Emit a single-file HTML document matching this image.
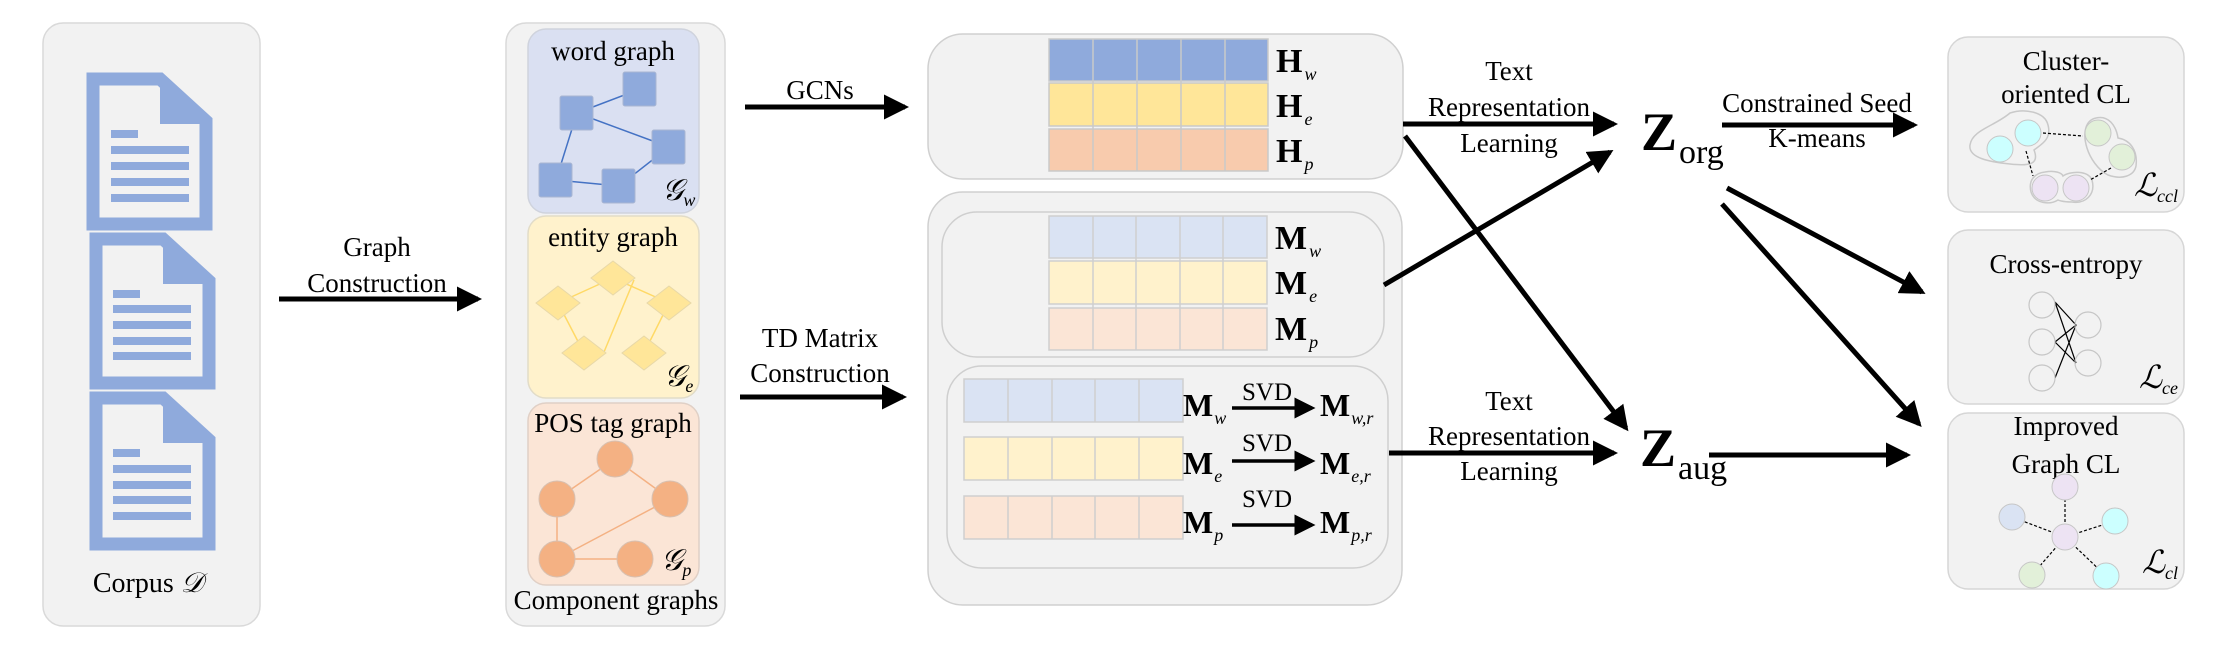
<!DOCTYPE html>
<html><head><meta charset="utf-8"><style>
html,body{margin:0;padding:0;background:#fff;}
svg{display:block;font-family:"Liberation Serif","Times New Roman","DejaVu Serif",serif;}
svg text{font-family:"Liberation Serif","Times New Roman","DejaVu Serif",serif;fill:#000;}
</style></head><body>
<svg width="2234" height="658" viewBox="0 0 2234 658" xmlns="http://www.w3.org/2000/svg" font-family="Liberation Serif, Times New Roman, DejaVu Serif, serif">
<defs>
<marker id="ah" markerWidth="5" markerHeight="5" refX="4.2" refY="2.5" orient="auto" markerUnits="strokeWidth">
<path d="M0,0 L5,2.5 L0,5 Z" fill="#000"/>
</marker>
<marker id="ahs" markerWidth="6" markerHeight="6" refX="5" refY="3" orient="auto" markerUnits="strokeWidth">
<path d="M0,0 L6,3 L0,6 Z" fill="#000"/>
</marker>
</defs>

<!-- Corpus -->
<rect x="43" y="23" width="217" height="603" rx="20" fill="#f2f2f2" stroke="#d9d9d9" stroke-width="1.5"/>
<g fill="none" stroke="#8faadc" stroke-width="13">
<path d="M93,79 H160 L206,121 V224 H93 Z"/>
<path d="M96,239 H163 L209,281 V383 H96 Z"/>
<path d="M96,398 H163 L209,440 V544 H96 Z"/>
</g>
<g fill="#8faadc">
<path d="M160,79 V124 H206 Z"/><path d="M163,239 V284 H209 Z"/><path d="M163,398 V443 H209 Z"/>
<rect x="111" y="130" width="27" height="8"/><rect x="111" y="146" width="78" height="8"/><rect x="111" y="162" width="78" height="8"/><rect x="111" y="178" width="78" height="8"/><rect x="111" y="194" width="78" height="8"/>
<rect x="113" y="290" width="27" height="8"/><rect x="113" y="305" width="78" height="8"/><rect x="113" y="321" width="78" height="8"/><rect x="113" y="337" width="78" height="8"/><rect x="113" y="352" width="78" height="8"/>
<rect x="113" y="449" width="27" height="8"/><rect x="113" y="465" width="78" height="8"/><rect x="113" y="481" width="78" height="8"/><rect x="113" y="496" width="78" height="8"/><rect x="113" y="512" width="78" height="8"/>
</g>
<text x="148" y="592" font-size="28" text-anchor="middle">Corpus <tspan font-style="italic">𝒟</tspan></text>

<!-- Graph Construction -->
<text x="377" y="256" font-size="27" text-anchor="middle">Graph</text>
<text x="377" y="292" font-size="27" text-anchor="middle">Construction</text>
<line x1="279" y1="299" x2="478" y2="299" stroke="#000" stroke-width="5" marker-end="url(#ah)"/>

<!-- Component graphs -->
<rect x="506" y="23" width="219" height="603" rx="20" fill="#f2f2f2" stroke="#d9d9d9" stroke-width="1.5"/>
<rect x="528" y="29" width="171" height="184" rx="18" fill="#dae0f2" stroke="#cfd3dd" stroke-width="1.5"/>
<rect x="528" y="216" width="171" height="182" rx="18" fill="#fff2cc" stroke="#e2dcc8" stroke-width="1.5"/>
<rect x="528" y="403" width="171" height="182" rx="18" fill="#fbe5d6" stroke="#e0d0c6" stroke-width="1.5"/>
<text x="613" y="60" font-size="27" text-anchor="middle">word graph</text>
<text x="613" y="246" font-size="27" text-anchor="middle">entity graph</text>
<text x="613" y="432" font-size="27" text-anchor="middle">POS tag graph</text>
<text x="616" y="609" font-size="27" text-anchor="middle">Component graphs</text>
<g stroke="#4472c4" stroke-width="1.5"><line x1="577" y1="113" x2="640" y2="89"/><line x1="577" y1="113" x2="669" y2="147"/><line x1="577" y1="113" x2="556" y2="180"/><line x1="556" y1="180" x2="619" y2="186"/><line x1="619" y1="186" x2="669" y2="147"/></g>
<g fill="#8faadc" stroke="#a9b6d2" stroke-width="1"><rect x="623" y="72" width="33" height="34" rx="2"/><rect x="560" y="96" width="33" height="34" rx="2"/><rect x="652" y="130" width="33" height="34" rx="2"/><rect x="539" y="163" width="33" height="34" rx="2"/><rect x="602" y="169" width="33" height="34" rx="2"/></g>
<text x="662" y="200" font-size="30" font-style="italic">𝒢<tspan font-size="18" dy="6">w</tspan></text>
<g stroke="#ffd966" stroke-width="1.5"><line x1="558" y1="303" x2="613" y2="278"/><line x1="613" y1="278" x2="669" y2="303"/><line x1="558" y1="303" x2="584" y2="353"/><line x1="634" y1="280" x2="604" y2="352"/><line x1="669" y1="303" x2="644" y2="353"/></g>
<g fill="#ffe699" stroke="#e8d8a8" stroke-width="1"><path d="M613,261 L635,278 L613,295 L591,278 Z"/><path d="M558,286 L580,303 L558,320 L536,303 Z"/><path d="M669,286 L691,303 L669,320 L647,303 Z"/><path d="M584,336 L606,353 L584,370 L562,353 Z"/><path d="M644,336 L666,353 L644,370 L622,353 Z"/></g>
<text x="664" y="386" font-size="30" font-style="italic">𝒢<tspan font-size="18" dy="6">e</tspan></text>
<g stroke="#f4b183" stroke-width="1.5"><line x1="615" y1="459" x2="557" y2="499"/><line x1="615" y1="459" x2="670" y2="499"/><line x1="557" y1="499" x2="557" y2="559"/><line x1="557" y1="559" x2="670" y2="499"/><line x1="557" y1="559" x2="635" y2="559"/></g>
<g fill="#f4b183" stroke="#d8c0b0" stroke-width="1"><ellipse cx="615" cy="459" rx="18" ry="18"/><ellipse cx="557" cy="499" rx="18" ry="18"/><ellipse cx="670" cy="499" rx="18" ry="18"/><ellipse cx="557" cy="559" rx="18" ry="18"/><ellipse cx="635" cy="559" rx="18" ry="18"/></g>
<text x="661" y="570" font-size="30" font-style="italic">𝒢<tspan font-size="18" dy="6">p</tspan></text>

<!-- GCNs -->
<text x="820" y="99" font-size="27" text-anchor="middle">GCNs</text>
<line x1="745" y1="107" x2="905" y2="107" stroke="#000" stroke-width="5" marker-end="url(#ah)"/>
<!-- TD Matrix -->
<text x="820" y="347" font-size="27" text-anchor="middle">TD Matrix</text>
<text x="820" y="382" font-size="27" text-anchor="middle">Construction</text>
<line x1="740" y1="397" x2="903" y2="397" stroke="#000" stroke-width="5" marker-end="url(#ah)"/>

<!-- H box -->
<rect x="928" y="34" width="475" height="145" rx="35" fill="#f2f2f2" stroke="#d0d0d0" stroke-width="1.5"/>
<g stroke="#c9c9c9" stroke-width="1.5">
<rect x="1049" y="39" width="219" height="42" fill="#8faadc"/>
<rect x="1049" y="83" width="219" height="43" fill="#ffe699"/>
<rect x="1049" y="129" width="219" height="42" fill="#f8cbad"/>
<line x1="1093" y1="39" x2="1093" y2="171"/><line x1="1137" y1="39" x2="1137" y2="171"/><line x1="1181" y1="39" x2="1181" y2="171"/><line x1="1225" y1="39" x2="1225" y2="171"/>
</g>
<text x="1276" y="72" font-size="34" font-weight="bold">H<tspan font-size="18" font-weight="normal" font-style="italic" dy="8" dx="2">w</tspan></text>
<text x="1276" y="117" font-size="34" font-weight="bold">H<tspan font-size="18" font-weight="normal" font-style="italic" dy="8" dx="2">e</tspan></text>
<text x="1276" y="162" font-size="34" font-weight="bold">H<tspan font-size="18" font-weight="normal" font-style="italic" dy="8" dx="2">p</tspan></text>

<!-- M big box -->
<rect x="928" y="192" width="474" height="413" rx="35" fill="#f2f2f2" stroke="#d0d0d0" stroke-width="1.5"/>
<rect x="942" y="212" width="442" height="145" rx="35" fill="#f2f2f2" stroke="#cfcfcf" stroke-width="1.5"/>
<g stroke="#cfcfcf" stroke-width="1.5">
<rect x="1049" y="216" width="218" height="42" fill="#dae3f3"/>
<rect x="1049" y="261" width="218" height="43" fill="#fff2cc"/>
<rect x="1049" y="308" width="218" height="42" fill="#fbe5d6"/>
<line x1="1093" y1="216" x2="1093" y2="350"/><line x1="1136" y1="216" x2="1136" y2="350"/><line x1="1180" y1="216" x2="1180" y2="350"/><line x1="1223" y1="216" x2="1223" y2="350"/>
</g>
<text x="1275" y="249" font-size="34" font-weight="bold">M<tspan font-size="18" font-weight="normal" font-style="italic" dy="8" dx="2">w</tspan></text>
<text x="1275" y="294" font-size="34" font-weight="bold">M<tspan font-size="18" font-weight="normal" font-style="italic" dy="8" dx="2">e</tspan></text>
<text x="1275" y="340" font-size="34" font-weight="bold">M<tspan font-size="18" font-weight="normal" font-style="italic" dy="8" dx="2">p</tspan></text>

<rect x="947" y="366" width="441" height="202" rx="35" fill="#f2f2f2" stroke="#cfcfcf" stroke-width="1.5"/>
<g stroke="#cfcfcf" stroke-width="1.5">
<rect x="964" y="379" width="219" height="43" fill="#dae3f3"/>
<rect x="964" y="437" width="219" height="43" fill="#fff2cc"/>
<rect x="964" y="496" width="219" height="43" fill="#fbe5d6"/>
<line x1="1008" y1="379" x2="1008" y2="422"/><line x1="1052" y1="379" x2="1052" y2="422"/><line x1="1095" y1="379" x2="1095" y2="422"/><line x1="1139" y1="379" x2="1139" y2="422"/>
<line x1="1008" y1="437" x2="1008" y2="480"/><line x1="1052" y1="437" x2="1052" y2="480"/><line x1="1095" y1="437" x2="1095" y2="480"/><line x1="1139" y1="437" x2="1139" y2="480"/>
<line x1="1008" y1="496" x2="1008" y2="539"/><line x1="1052" y1="496" x2="1052" y2="539"/><line x1="1095" y1="496" x2="1095" y2="539"/><line x1="1139" y1="496" x2="1139" y2="539"/>
</g>
<g font-size="32" font-weight="bold">
<text x="1183" y="416">M<tspan font-size="18" font-weight="normal" font-style="italic" dy="8" dx="1">w</tspan></text>
<text x="1183" y="474">M<tspan font-size="18" font-weight="normal" font-style="italic" dy="8" dx="1">e</tspan></text>
<text x="1183" y="533">M<tspan font-size="18" font-weight="normal" font-style="italic" dy="8" dx="1">p</tspan></text>
<text x="1320" y="416">M<tspan font-size="18" font-weight="normal" font-style="italic" dy="8" dx="1">w,r</tspan></text>
<text x="1320" y="474">M<tspan font-size="18" font-weight="normal" font-style="italic" dy="8" dx="1">e,r</tspan></text>
<text x="1320" y="533">M<tspan font-size="18" font-weight="normal" font-style="italic" dy="8" dx="1">p,r</tspan></text>
</g>
<g font-size="25" text-anchor="middle"><text x="1267" y="400">SVD</text><text x="1267" y="451">SVD</text><text x="1267" y="507">SVD</text></g>
<g stroke="#000" stroke-width="3.5"><line x1="1232" y1="408" x2="1312" y2="408" marker-end="url(#ahs)"/><line x1="1232" y1="461" x2="1312" y2="461" marker-end="url(#ahs)"/><line x1="1232" y1="525" x2="1312" y2="525" marker-end="url(#ahs)"/></g>

<!-- connectors middle -->
<g stroke="#000" stroke-width="5" fill="none">
<line x1="1403" y1="124" x2="1614" y2="124" marker-end="url(#ah)"/>
<line x1="1384" y1="285" x2="1610" y2="152" marker-end="url(#ah)"/>
<line x1="1405" y1="136" x2="1626" y2="428" marker-end="url(#ah)"/>
<line x1="1389" y1="453" x2="1614" y2="453" marker-end="url(#ah)"/>
<line x1="1722" y1="125" x2="1914" y2="125" marker-end="url(#ah)"/>
<line x1="1727" y1="188" x2="1922" y2="292" marker-end="url(#ah)"/>
<line x1="1722" y1="204" x2="1919" y2="424" marker-end="url(#ah)"/>
<line x1="1709" y1="455" x2="1907" y2="455" marker-end="url(#ah)"/>
</g>
<g font-size="27" text-anchor="middle">
<text x="1509" y="80">Text</text><text x="1509" y="116">Representation</text><text x="1509" y="152">Learning</text>
<text x="1509" y="410">Text</text><text x="1509" y="445">Representation</text><text x="1509" y="480">Learning</text>
<text x="1817" y="112">Constrained Seed</text><text x="1817" y="147">K-means</text>
</g>
<text x="1641" y="150" font-size="54" font-weight="bold">Z<tspan font-size="34" font-weight="normal" dy="13" dx="2">org</tspan></text>
<text x="1640" y="466" font-size="54" font-weight="bold">Z<tspan font-size="34" font-weight="normal" dy="13" dx="2">aug</tspan></text>

<!-- right boxes -->
<rect x="1948" y="37" width="236" height="175" rx="20" fill="#f2f2f2" stroke="#d6d6d6" stroke-width="1.5"/>
<rect x="1948" y="230" width="236" height="174" rx="20" fill="#f2f2f2" stroke="#d6d6d6" stroke-width="1.5"/>
<rect x="1948" y="413" width="236" height="176" rx="20" fill="#f2f2f2" stroke="#d6d6d6" stroke-width="1.5"/>
<g font-size="27" text-anchor="middle">
<text x="2066" y="70">Cluster-</text><text x="2066" y="103">oriented CL</text>
<text x="2066" y="273">Cross-entropy</text>
<text x="2066" y="435">Improved</text><text x="2066" y="473">Graph CL</text>
</g>
<!-- cluster CL -->
<g fill="none" stroke="#c9c9c9" stroke-width="1.5">
<path d="M2010,113 C2025,108 2045,112 2048,125 C2052,140 2040,145 2034,150 C2040,165 2028,166 2010,164 C1990,162 1968,158 1970,145 C1972,130 1995,126 2010,113 Z"/>
<path d="M2096,118 C2108,115 2116,125 2118,138 C2130,140 2138,150 2136,166 C2134,176 2122,180 2108,175 C2098,170 2090,158 2087,148 C2082,132 2086,120 2096,118 Z"/>
<path d="M2045,172 C2055,170 2062,173 2063,176 C2070,171 2088,170 2092,180 C2096,195 2085,204 2072,202 C2062,202 2058,200 2058,200 C2050,205 2035,204 2031,192 C2028,180 2035,173 2045,172 Z"/>
</g>
<g stroke="#000" stroke-width="1.2" stroke-dasharray="3,2"><line x1="2043" y1="133" x2="2083" y2="136"/><line x1="2026" y1="151" x2="2033" y2="176"/><line x1="2111" y1="168" x2="2090" y2="180"/></g>
<g stroke="#c6c6c6" stroke-width="1">
<circle cx="2000" cy="149" r="13" fill="#ccffff"/><circle cx="2028" cy="133" r="13" fill="#ccffff"/>
<circle cx="2098" cy="133" r="13" fill="#e2f0d9"/><circle cx="2122" cy="157" r="13" fill="#e2f0d9"/>
<circle cx="2045" cy="188" r="13" fill="#ede3f3"/><circle cx="2076" cy="188" r="13" fill="#ede3f3"/>
</g>
<text x="2134" y="196" font-size="32" font-style="italic">ℒ<tspan font-size="18" dy="6">ccl</tspan></text>
<!-- cross-entropy -->
<g stroke="#000" stroke-width="1.2" fill="none">
<path d="M2055,302 L2076,325 L2055,378 M2055,302 L2076,363 M2055,342 L2076,325 M2055,342 L2076,363 M2055,378 L2076,325"/>
</g>
<g fill="none" stroke="#c6c6c6" stroke-width="1.2">
<circle cx="2042" cy="305" r="13"/><circle cx="2042" cy="342" r="13"/><circle cx="2042" cy="378" r="13"/><circle cx="2088" cy="325" r="13"/><circle cx="2088" cy="363" r="13"/>
</g>
<text x="2139" y="388" font-size="32" font-style="italic">ℒ<tspan font-size="18" dy="6">ce</tspan></text>
<!-- graph CL -->
<g stroke="#000" stroke-width="1.2" stroke-dasharray="3,2"><line x1="2065" y1="537" x2="2065" y2="487"/><line x1="2065" y1="537" x2="2012" y2="517"/><line x1="2065" y1="537" x2="2115" y2="521"/><line x1="2065" y1="537" x2="2032" y2="575"/><line x1="2065" y1="537" x2="2106" y2="576"/></g>
<g stroke="#c6c6c6" stroke-width="1">
<circle cx="2065" cy="487" r="13" fill="#ede3f3"/><circle cx="2065" cy="537" r="13" fill="#ede3f3"/>
<circle cx="2012" cy="517" r="13" fill="#dae3f3"/><circle cx="2115" cy="521" r="13" fill="#ccffff"/>
<circle cx="2032" cy="575" r="13" fill="#e2f0d9"/><circle cx="2106" cy="576" r="13" fill="#ccffff"/>
</g>
<text x="2142" y="573" font-size="32" font-style="italic">ℒ<tspan font-size="18" dy="6">cl</tspan></text>
</svg>
</body></html>
